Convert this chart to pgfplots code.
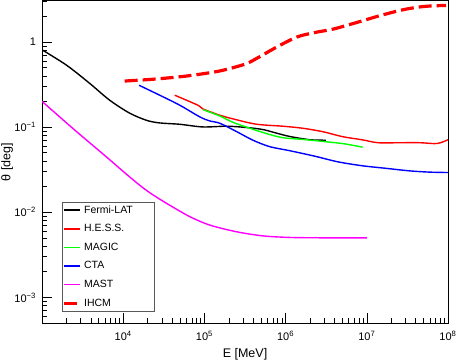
\documentclass[border=0pt]{standalone}
\usepackage{fontspec}
\setmainfont{Liberation Sans}
\usepackage{pgfplots}
\pgfplotsset{compat=1.18}
\usetikzlibrary{calc}
\definecolor{rred}{rgb}{1,0,0}
\definecolor{rgreen}{rgb}{0,1,0}
\definecolor{rblue}{rgb}{0,0,1}
\definecolor{rmagenta}{rgb}{1,0,1}
\definecolor{legframe}{gray}{0.35}

\begin{document}
\begin{tikzpicture}
\begin{axis}[
  scale only axis, width=406pt, height=323pt,
  xmode=log, ymode=log,
  xmin=1000, xmax=1e8, ymin=4.95e-4, ymax=3.08,
  xtick={1e4,1e5,1e6,1e7,1e8},
  xticklabels={10\textsuperscript{4},10\textsuperscript{5},10\textsuperscript{6},10\textsuperscript{7},10\textsuperscript{8}},
  ytick={1e-3,1e-2,1e-1,1},
  yticklabels={10\textsuperscript{−3},10\textsuperscript{−2},10\textsuperscript{−1},1},
  minor xtick={2000,3000,4000,5000,6000,7000,8000,9000,
    20000,30000,40000,50000,60000,70000,80000,90000,
    2e5,3e5,4e5,5e5,6e5,7e5,8e5,9e5,
    2e6,3e6,4e6,5e6,6e6,7e6,8e6,9e6,
    2e7,3e7,4e7,5e7,6e7,7e7,8e7,9e7},
  minor ytick={6e-4,7e-4,8e-4,9e-4,
    2e-3,3e-3,4e-3,5e-3,6e-3,7e-3,8e-3,9e-3,
    0.02,0.03,0.04,0.05,0.06,0.07,0.08,0.09,
    0.2,0.3,0.4,0.5,0.6,0.7,0.8,0.9,2,3},
  tick pos=left, tick align=inside,
  major tick length=10pt, minor tick length=5pt,
  tick style={black, line width=0.6pt},
  axis line style={line width=0.8pt},
  tick label style={font=\fontsize{11}{13}\selectfont},
  xticklabel style={yshift=-4pt},
  yticklabel style={xshift=-2.5pt},
  xlabel={E [MeV]}, ylabel={θ [deg]},
  every axis x label/.style={at={(axis description cs:0.5,-0.077)}, anchor=north,
    inner sep=0pt, font=\fontsize{12.5}{14}\selectfont},
  every axis y label/.style={at={(axis description cs:-0.086,0.5)}, anchor=center,
    rotate=90, inner sep=0pt, font=\fontsize{12.5}{14}\selectfont},
  legend style={at={(rel axis cs:0.0485,0.037)}, anchor=south west,
    draw=legframe, font=\fontsize{10.5}{12}\selectfont,
    row sep=5.8pt, column sep=0pt, inner xsep=1pt, inner ysep=1.5pt},
  legend cell align=left,
  legend image code/.code={\draw[#1] (0pt,0pt) -- (16pt,0pt);},
  every axis plot/.append style={line join=round},
]
\addplot[draw=black, line width=1.4pt, smooth] coordinates {
  (1000,0.81) (2010,0.533) (3860,0.327) (6820,0.207) (12000,0.146)
  (19500,0.120) (28200,0.112) (49700,0.108) (95600,0.1005) (189000,0.1025)
  (333000,0.0989) (525000,0.0937) (780000,0.0848) (1130000,0.0776)
  (2000000,0.0711) (3140000,0.0702)};
\addlegendentry{Fermi-LAT\hspace*{18pt}}
\addplot[draw=rred, line width=1.4pt, smooth] coordinates {
  (43100,0.237) (83000,0.181) (96400,0.163) (155000,0.138) (240000,0.123)
  (443000,0.108) (926000,0.1025) (1630000,0.097) (2880000,0.0883)
  (5090000,0.0771) (8730000,0.0711) (13700000,0.0656) (25700000,0.0656)
  (45300000,0.0656) (73400000,0.0642) (100000000,0.0711)};
\addlegendentry{H.E.S.S.}
\addplot[draw=rgreen, line width=1.4pt, smooth] coordinates {
  (96300,0.160) (155000,0.135) (224000,0.114) (363000,0.097) (588000,0.0837)
  (926000,0.0751) (1630000,0.0717) (3320000,0.0670) (5390000,0.0635)
  (8900000,0.0581)};
\addlegendentry{MAGIC}
\addplot[draw=rblue, line width=1.4pt, smooth] coordinates {
  (15700,0.310) (28200,0.237) (49700,0.181) (87700,0.132) (117000,0.118)
  (155000,0.111) (251000,0.0883) (396000,0.0702) (640000,0.0589)
  (1130000,0.0528) (2300000,0.0455) (4420000,0.0391) (8730000,0.0352)
  (16800000,0.0329) (34100000,0.0306) (60200000,0.0296) (100000000,0.0293)};
\addlegendentry{CTA}
\addplot[draw=rmagenta, line width=1.4pt, smooth] coordinates {
  (1000,0.201) (2405,0.0963) (6210,0.0447) (10400,0.0292) (15950,0.0208)
  (21200,0.0170) (28200,0.01425) (37400,0.0121) (66100,0.00888)
  (117000,0.00706) (251000,0.00589) (525000,0.00528) (1130000,0.00506)
  (2880000,0.00501) (10000000,0.00501)};
\addlegendentry{MAST}
\addplot[draw=rred, line width=3.2pt, dash pattern=on 13pt off 5pt, smooth] coordinates {
  (10430,0.348) (23100,0.365) (57300,0.396) (134000,0.445) (206000,0.488)
  (330000,0.557) (455000,0.653) (781000,0.874) (1380000,1.145)
  (2300000,1.293) (3830000,1.416) (7150000,1.671) (15000000,2.057)
  (29600000,2.42) (52200000,2.62) (95000000,2.69)};
\addlegendentry{IHCM}
\end{axis}
\pgfresetboundingbox
\path ($(current axis.south west)+(-42pt,-37pt)$) rectangle ($(current axis.north east)+(10pt,0.4pt)$);
\end{tikzpicture}
\end{document}
